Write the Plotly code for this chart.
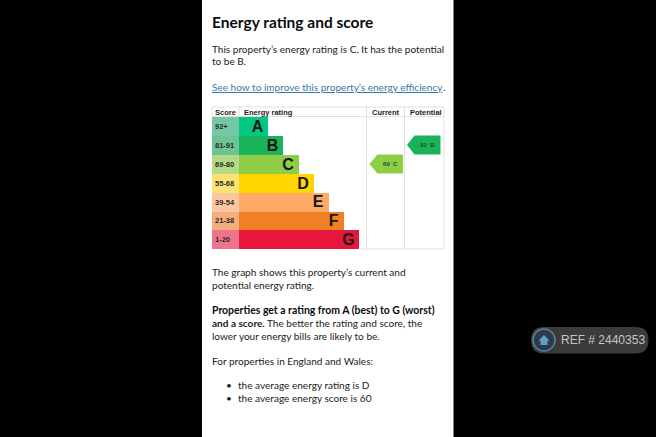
import plotly.graph_objects as go

W, H = 656, 437
ratings = ["A", "B", "C", "D", "E", "F", "G"]
score_bands = ["92+", "81-91", "69-80", "55-68", "39-54", "21-38", "1-20"]
band_lengths = [29, 44, 59.5, 74.5, 89.5, 105, 120]
band_colors = ["#00c781", "#19b459", "#8dce46", "#ffd500", "#fcaa65", "#ef8023", "#e6163c"]
score_colors = ["#74c8a6", "#6cc396", "#b3da85", "#fbe274", "#fcc7a0", "#f4ae7b", "#f0738c"]
current_score, current_rating = 69, "C"
potential_score, potential_rating = 82, "B"

SCORE_W = 27.3
CUR = (157.3, 165.5, 191)   # tip, body start, end in axis units
POT = (195, 202.5, 228.5)

def row_of(rating):
    return ratings.index(rating)

def P(x, y):
    return x / W, 1 - y / H

fig = go.Figure()
fig.add_bar(y=list(range(7)), x=[SCORE_W] * 7, base=0, orientation="h",
            marker=dict(color=score_colors, line_width=0), text=score_bands,
            textposition="inside", insidetextanchor="start", textangle=0,
            textfont=dict(family="Liberation Sans", size=7.5, color="#2a2a2a", weight="bold"),
            constraintext="none", hoverinfo="skip", showlegend=False)
fig.add_bar(y=list(range(7)), x=band_lengths, base=SCORE_W, orientation="h",
            marker=dict(color=band_colors, line_width=0), hoverinfo="skip", showlegend=False)
fig.add_scatter(y=[i + 0.09 for i in range(7)], x=[SCORE_W + v - 10.7 for v in band_lengths], mode="text",
                text=ratings, textposition="middle center",
                textfont=dict(family="Liberation Sans", size=16, color="#161616", weight="bold"),
                hoverinfo="skip", showlegend=False)

def arrow(rating, geom, label):
    r = row_of(rating)
    tip, body, end = geom
    color = band_colors[r]
    fig.add_scatter(x=[tip, body, end, end, body, tip], y=[r, r - .5, r - .5, r + .5, r + .5, r],
                    mode="lines", fill="toself", fillcolor=color, line=dict(width=0, color=color),
                    hoverinfo="skip", showlegend=False)
    fig.add_scatter(x=[(body + end) / 2], y=[r + 0.02], mode="text", text=[label], textposition="middle center",
                    textfont=dict(family="Liberation Sans", size=6, color="#2c4a28", weight="bold"),
                    hoverinfo="skip", showlegend=False)

arrow(current_rating, CUR, f"{current_score}\u00a0\u00a0{current_rating}")
arrow(potential_rating, POT, f"{potential_score}\u00a0\u00a0{potential_rating}")

shapes = []
# white page column
x0, y0 = P(202, 0); x1, y1 = P(453.5, H)
shapes.append(dict(type="rect", xref="paper", yref="paper", x0=x0, x1=x1, y0=y1, y1=y0,
                   fillcolor="#ffffff", line_width=0, layer="below"))
GRID = "#e0e0e0"
def vline(px, top=107, bot=249, c=GRID, w=1):
    a, t = P(px, top); _, b = P(px, bot)
    shapes.append(dict(type="line", xref="paper", yref="paper", x0=a, x1=a, y0=b, y1=t,
                       line=dict(color=c, width=w), layer="above"))
def hline(py, l=212, r=444, c=GRID, w=1):
    a, y = P(l, py); b, _ = P(r, py)
    shapes.append(dict(type="line", xref="paper", yref="paper", x0=a, x1=b, y0=y, y1=y,
                       line=dict(color=c, width=w), layer="above"))
vline(212, bot=116.5)
vline(239, bot=116.5)
for px in (366.5, 404.5, 444):
    vline(px)
hline(107); hline(116.5); hline(249, l=360)

# reference badge
bx0, bx1, by0, by1, rad = 531, 648.5, 327, 353.5, 13
shapes.append(dict(type="path", xref="paper", yref="paper", fillcolor="#3b3b3b", line_width=0,
    path=" ".join([
        f"M {P(bx0+rad,by0)[0]} {P(0,by0)[1]}",
        f"L {P(bx1-rad,by0)[0]} {P(0,by0)[1]}",
        f"Q {P(bx1,by0)[0]} {P(0,by0)[1]} {P(bx1,0)[0]} {P(0,(by0+by1)/2)[1]}",
        f"Q {P(bx1,0)[0]} {P(0,by1)[1]} {P(bx1-rad,0)[0]} {P(0,by1)[1]}",
        f"L {P(bx0+rad,0)[0]} {P(0,by1)[1]}",
        f"Q {P(bx0,0)[0]} {P(0,by1)[1]} {P(bx0,0)[0]} {P(0,(by0+by1)/2)[1]}",
        f"Q {P(bx0,0)[0]} {P(0,by0)[1]} {P(bx0+rad,0)[0]} {P(0,by0)[1]} Z"])))
cx, cy, cr = 544, 340, 11
shapes.append(dict(type="circle", xref="paper", yref="paper",
                   x0=P(cx-cr,0)[0], x1=P(cx+cr,0)[0], y0=P(0,cy+cr)[1], y1=P(0,cy-cr)[1],
                   line=dict(color="#4f83a8", width=1.5), fillcolor="#2f3a44"))
shapes.append(dict(type="path", xref="paper", yref="paper", fillcolor="#5b9fd0", line_width=0,
    path=" ".join([
        f"M {P(cx-5.5,0)[0]} {P(0,cy+0.5)[1]}", f"L {P(cx,0)[0]} {P(0,cy-5)[1]}",
        f"L {P(cx+5.5,0)[0]} {P(0,cy+0.5)[1]}", f"L {P(cx+3.5,0)[0]} {P(0,cy+0.5)[1]}",
        f"L {P(cx+3.5,0)[0]} {P(0,cy+5)[1]}", f"L {P(cx-3.5,0)[0]} {P(0,cy+5)[1]}",
        f"L {P(cx-3.5,0)[0]} {P(0,cy+0.5)[1]} Z"])))

BODY = "Lato"
INK = "#1c1c1c"
S = 10.05
texts = [
    ("Energy rating and score", 211, 22, 15.5, "#0b0c0c", True, BODY),
    ("This property’s energy rating is C. It has the potential", 211, 48.5, S, INK, False, BODY),
    ("to be B.", 211, 61.5, S, INK, False, BODY),
    (".", 441.5, 87.5, S, INK, False, BODY),
    ("The graph shows this property’s current and", 211, 271.5, S, INK, False, BODY),
    ("potential energy rating.", 211, 284.5, S, INK, False, BODY),
    ("<b>Properties get a rating from A (best) to G (worst)</b>", 211, 310, 10.45, "#0b0c0c", False, BODY),
    ("<b>and a score.</b> The better the rating and score, the", 211, 323, S, INK, False, BODY),
    ("lower your energy bills are likely to be.", 211, 335.5, S, INK, False, BODY),
    ("For properties in England and Wales:", 211, 361, S, INK, False, BODY),
    ("•", 225, 384.5, S, INK, False, BODY),
    ("the average energy rating is D", 236.5, 384.5, S, INK, False, BODY),
    ("•", 225, 397.5, S, INK, False, BODY),
    ("the average energy score is 60", 236.5, 397.5, S, INK, False, BODY),
    ("Score", 213.5, 112.3, 7.5, "#222222", True, "Liberation Sans"),
    ("Energy rating", 243, 112.3, 7.5, "#222222", True, "Liberation Sans"),
    ("Current", 371, 112.3, 7.5, "#222222", True, "Liberation Sans"),
    ("Potential", 408.5, 112.3, 7.5, "#222222", True, "Liberation Sans"),
    ("REF # 2440353", 559.5, 339.5, 12, "#c4c4c4", False, "Liberation Sans"),
]
ann = []
for t, x, y, size, col, bold, fam in texts:
    px, py = P(x, y)
    ann.append(dict(text=t, x=px, y=py, xref="paper", yref="paper", xanchor="left", yanchor="middle",
                    showarrow=False, borderpad=0,
                    font=dict(family=fam, size=size, color=col, weight="bold" if bold else "normal")))
px, py = P(211, 87)
ann.append(dict(text="See how to improve this property’s energy efficiency", x=px, y=py, xref="paper", yref="paper",
                xanchor="left", yanchor="middle", showarrow=False, borderpad=0,
                font=dict(family=BODY, size=S, color="#3a78a6", lineposition="under")))

fig.update_layout(
    width=W, height=H, autosize=False, margin=dict(l=0, r=0, t=0, b=0),
    paper_bgcolor="#000000", plot_bgcolor="#ffffff", barmode="overlay", bargap=0,
    shapes=shapes, annotations=ann, showlegend=False,
    xaxis=dict(domain=[212 / W, 444 / W], range=[0, 232], visible=False, fixedrange=True),
    yaxis=dict(domain=[1 - 249 / H, 1 - 116.7 / H], range=[6.5, -0.5], visible=False, fixedrange=True),
)
fig.write_html("out.html", config={"displayModeBar": False},
               post_script="document.body.style.margin='0';document.body.style.background='#000';")
